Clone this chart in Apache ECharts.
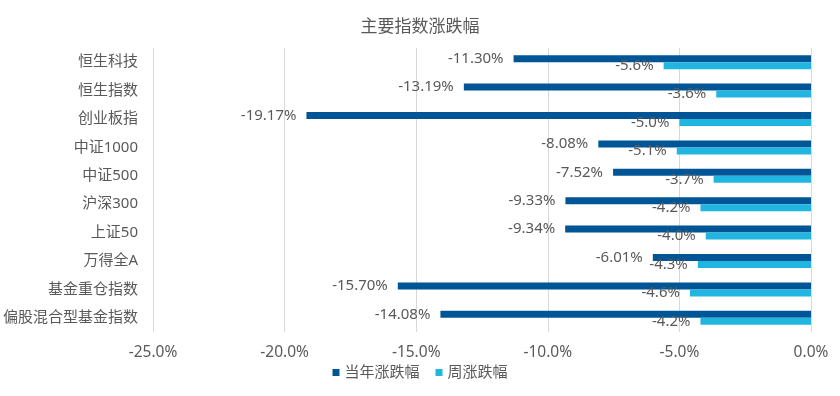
<!DOCTYPE html>
<html><head><meta charset="utf-8">
<script src="https://cdn.jsdelivr.net/npm/echarts@6/dist/echarts.min.js"></script>
<style>html,body{margin:0;padding:0;background:#fff}#c{width:840px;height:396px}</style>
</head><body><div id="c"></div>
<script>
const categories = ['恒生科技','恒生指数','创业板指','中证1000','中证500','沪深300','上证50','万得全A','基金重仓指数','偏股混合型基金指数'];
const yearChange = [-11.30,-13.19,-19.17,-8.08,-7.52,-9.33,-9.34,-6.01,-15.70,-14.08];
const weekChange = [-5.6,-3.6,-5.0,-5.1,-3.7,-4.2,-4.0,-4.3,-4.6,-4.2];
const seriesNames = ['当年涨跌幅','周涨跌幅'];
const titleText = '主要指数涨跌幅';

const FONT = '"Noto Sans", "Noto Sans CJK SC", sans-serif';
const TXT = '#595959';
const chart = echarts.init(document.getElementById('c'));
chart.setOption({
  animation: false,
  textStyle: {fontFamily: FONT},
  title: {text: titleText, left: 'center', top: 14, textStyle: {fontSize: 17, fontWeight: 'normal', color: TXT, fontFamily: FONT}},
  legend: {left: 'center', top: 360, itemWidth: 7, itemHeight: 7, itemGap: 16, icon: 'rect',
    textStyle: {fontSize: 15, color: TXT, fontFamily: FONT}, data: seriesNames},
  grid: {left: 153, right: 29, top: 48, bottom: 64, containLabel: false},
  xAxis: {type: 'value', min: -25, max: 0, interval: 5,
    axisLabel: {formatter: v => v.toFixed(1) + '%', fontSize: 15.5, color: TXT, margin: 13, fontFamily: FONT},
    axisLine: {show: false}, axisTick: {show: false},
    splitLine: {lineStyle: {color: '#d9d9d9', width: 1}}},
  yAxis: {type: 'category', data: categories, inverse: true,
    axisLabel: {fontSize: 15, color: TXT, margin: 15, fontFamily: FONT},
    axisLine: {show: false}, axisTick: {show: false}},
  series: [
    {name: seriesNames[0], type: 'bar', data: yearChange, barWidth: 7, barGap: '0%',
      itemStyle: {color: '#005597'},
      label: {show: true, position: 'left', distance: 10, formatter: p => p.value.toFixed(2) + '%', fontSize: 15, color: TXT, fontFamily: FONT}},
    {name: seriesNames[1], type: 'bar', data: weekChange, barWidth: 7, barGap: '0%',
      itemStyle: {color: '#20b6e0'},
      label: {show: true, position: 'left', distance: 10, formatter: p => p.value.toFixed(1) + '%', fontSize: 15, color: TXT, fontFamily: FONT}}
  ]
});
</script></body></html>
